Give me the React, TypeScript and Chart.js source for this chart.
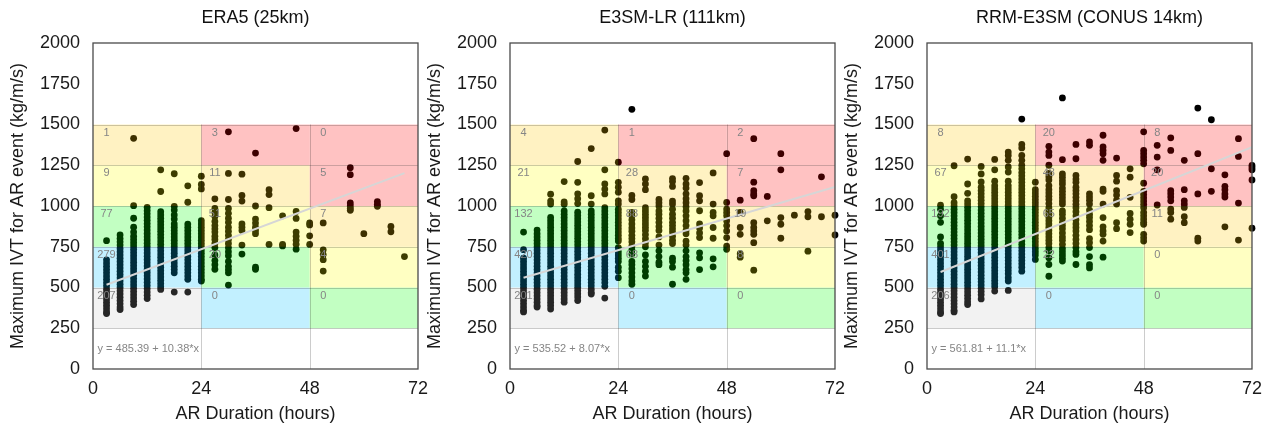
import React, { useEffect, useRef } from 'react';
import { Chart, registerables } from 'chart.js';

Chart.register(...registerables);

const FONT = '"Liberation Sans", Arial, Helvetica, sans-serif';

// ---------- ERA5 (25km) ----------
const ERA5_HOURS = [3, 6, 9, 12, 15, 18, 21, 24, 27, 30, 33, 36, 39, 42, 45, 48, 51, 57, 60, 63, 66, 69];
const ERA5_IVT: number[][] = [
  [787, 670, 650, 630, 610, 590, 570, 550, 530, 510, 490, 470, 450, 430, 410, 390, 370, 350, 340],
  [822, 800, 780, 760, 740, 720, 700, 680, 660, 640, 620, 600, 580, 560, 540, 520, 500, 480, 460, 440, 420, 400, 380, 365],
  [1415, 1002, 925, 870, 840, 815, 795, 775, 755, 735, 715, 695, 675, 655, 635, 615, 595, 575, 555, 535, 515, 495, 475, 455, 435, 415, 395],
  [992, 972, 952, 932, 912, 892, 872, 852, 832, 812, 792, 772, 752, 732, 712, 692, 672, 652, 632, 612, 592, 572, 552, 532, 512, 492, 472, 452, 432],
  [1222, 1089, 965, 945, 925, 905, 885, 865, 845, 825, 805, 785, 765, 745, 725, 705, 685, 665, 645, 625, 605, 585, 565, 545, 525, 505, 488],
  [1198, 998, 975, 945, 920, 890, 870, 850, 830, 810, 790, 770, 750, 730, 710, 690, 670, 650, 630, 610, 590, 472],
  [1124, 1023, 889, 870, 850, 830, 810, 790, 770, 750, 730, 710, 690, 670, 650, 630, 610, 590, 570, 550, 472],
  [1183, 1132, 1105, 910, 890, 870, 850, 830, 810, 790, 770, 750, 730, 710, 690, 670, 650, 630, 610, 590, 570, 550, 540],
  [1044, 985, 960, 935, 905, 880, 860, 840, 815, 795, 770, 745, 700, 665, 640, 612],
  [1455, 1200, 1040, 985, 955, 925, 900, 870, 845, 820, 795, 770, 745, 720, 695, 660, 630, 610, 590, 515],
  [1195, 1065, 1030, 890, 870, 850, 760, 705],
  [1325, 1000, 920, 895, 870, 850, 830, 625, 612],
  [1100, 1070, 990, 764],
  [940, 765, 755],
  [1475, 967, 924, 840, 815, 790, 766, 735],
  [896, 884, 817, 764],
  [896, 731, 702, 671, 601],
  [1235, 1192, 1019, 1000, 985, 974],
  [830],
  [1027, 1010, 998],
  [875, 842],
  [690],
];
// counts per box, column by column (0-24, 24-48, 48-72), rows bottom (250-500) to top (1250-1500)
const ERA5_COUNTS = [
  [207, 279, 77, 9, 1],
  [0, 20, 51, 11, 3],
  [0, 4, 7, 5, 0],
];
const ERA5_FIT = [485.39, 10.38];

// ---------- E3SM-LR (111km) ----------
const LR_HOURS = [3, 6, 9, 12, 15, 18, 21, 24, 27, 30, 33, 36, 39, 42, 45, 48, 51, 54, 57, 60, 63, 66, 69, 72];
const LR_IVT: number[][] = [
  [840, 732, 680, 660, 640, 620, 600, 580, 560, 540, 520, 500, 480, 460, 440, 420, 400, 380, 360, 350],
  [852, 830, 810, 790, 770, 750, 730, 710, 690, 670, 650, 630, 610, 590, 570, 550, 530, 510, 490, 470, 450, 430, 410, 390, 380],
  [1072, 1030, 1012, 930, 910, 890, 870, 850, 830, 810, 790, 770, 750, 730, 710, 690, 670, 650, 630, 610, 590, 570, 550, 530, 510, 490, 470, 450, 430, 410, 390, 368],
  [1150, 1025, 1010, 970, 950, 930, 910, 890, 870, 850, 830, 810, 790, 770, 750, 730, 710, 690, 670, 650, 630, 610, 590, 570, 550, 530, 510, 490, 470, 450, 430, 410],
  [1273, 1145, 1075, 1045, 1015, 962, 942, 922, 902, 882, 862, 842, 822, 802, 782, 762, 742, 722, 702, 682, 662, 642, 622, 602, 582, 562, 542, 522, 502, 482, 462, 442, 420],
  [1352, 1063, 1012, 970, 950, 930, 910, 890, 870, 850, 830, 810, 790, 770, 750, 730, 710, 690, 670, 650, 630, 610, 590, 570, 550, 530, 510, 490, 470, 460],
  [1466, 1222, 1135, 1104, 1074, 990, 970, 950, 930, 910, 890, 870, 850, 830, 810, 790, 770, 750, 730, 710, 690, 670, 650, 630, 610, 590, 570, 550, 530, 507, 435],
  [1269, 1145, 1115, 1085, 1032, 1012, 980, 960, 940, 920, 900, 880, 860, 840, 820, 800, 785, 745, 720, 700, 680, 660, 625, 600, 560],
  [1593, 1065, 1040, 960, 940, 915, 890, 865, 845, 820, 800, 780, 755, 730, 705, 660, 640, 615, 590, 565, 540, 520],
  [1166, 1135, 1100, 990, 970, 950, 930, 910, 890, 870, 850, 825, 800, 775, 750, 700, 660, 630, 600, 570],
  [1040, 1020, 1000, 970, 950, 925, 900, 875, 850, 810, 760, 725, 690, 655, 640],
  [1168, 1150, 1120, 1030, 1012, 980, 950, 925, 900, 880, 860, 840, 815, 790, 770, 680, 660, 625, 520],
  [1170, 1135, 1110, 1075, 1045, 1020, 995, 970, 940, 910, 880, 850, 830, 785, 760, 725, 690, 665, 640, 610, 590, 550],
  [1144, 1063, 1032, 971, 890, 865, 835, 806, 713, 682, 610],
  [1203, 1012, 960, 940, 868, 802, 676, 627],
  [1321, 1022, 981, 960, 940, 910, 880, 847, 806, 754, 734],
  [1036, 960, 868, 826, 707, 686],
  [1413, 1146, 1094, 1074, 1063, 898, 868, 847, 826, 775, 606],
  [1059, 909],
  [1321, 1222, 929, 888, 802],
  [944],
  [966, 934, 723],
  [1179, 934],
  [944, 822],
];
const LR_COUNTS = [
  [201, 420, 132, 21, 4],
  [0, 68, 88, 28, 1],
  [0, 8, 19, 7, 2],
];
const LR_FIT = [535.52, 8.07];

// ---------- RRM-E3SM (CONUS 14km) ----------
const RRM_HOURS = [3, 6, 9, 12, 15, 18, 21, 24, 27, 30, 33, 36, 39, 42, 45, 48, 51, 54, 57, 60, 63, 66, 69, 72];
const RRM_IVT: number[][] = [
  [1005, 980, 940, 900, 810, 770, 750, 730, 710, 690, 670, 650, 630, 610, 590, 570, 550, 530, 510, 490, 470, 450, 430, 410, 390, 370, 350, 340],
  [1247, 1057, 1020, 1000, 980, 960, 940, 920, 900, 880, 860, 840, 820, 800, 780, 760, 740, 720, 700, 680, 660, 640, 620, 600, 580, 560, 540, 520, 500, 480, 460, 440, 420, 400, 380, 360, 350],
  [1288, 1135, 1078, 1032, 1012, 992, 972, 952, 932, 912, 892, 872, 852, 832, 812, 792, 772, 752, 732, 712, 692, 672, 652, 632, 612, 592, 572, 552, 532, 512, 492, 472, 452, 432, 412, 395],
  [1243, 1197, 1148, 1115, 1095, 1075, 1055, 1035, 1015, 995, 975, 955, 935, 915, 895, 875, 855, 835, 815, 795, 775, 755, 735, 715, 695, 675, 655, 635, 615, 595, 575, 555, 535, 515, 495, 475, 455, 430],
  [1286, 1222, 1152, 1125, 1105, 1085, 1065, 1045, 1025, 1005, 985, 965, 945, 925, 905, 885, 865, 845, 825, 805, 785, 765, 745, 725, 705, 685, 665, 645, 625, 605, 585, 565, 545, 525, 505, 478],
  [1331, 1310, 1280, 1240, 1208, 1152, 1125, 1105, 1085, 1065, 1045, 1025, 1005, 985, 965, 945, 925, 905, 885, 865, 845, 825, 805, 785, 765, 745, 725, 705, 685, 665, 645, 625, 605, 585, 560, 540, 482],
  [1533, 1378, 1356, 1310, 1280, 1250, 1228, 1205, 1185, 1165, 1145, 1125, 1105, 1085, 1065, 1045, 1025, 1005, 985, 965, 945, 925, 905, 885, 865, 845, 825, 805, 785, 765, 745, 725, 705, 685, 665, 645, 625, 600],
  [1146, 1100, 1080, 1060, 1040, 1020, 1000, 980, 960, 940, 920, 900, 880, 860, 840, 820, 800, 780, 760, 740, 720, 700, 672],
  [1366, 1331, 1310, 1250, 1200, 1180, 1160, 1125, 1100, 1080, 1060, 1040, 1015, 990, 970, 950, 930, 910, 890, 870, 850, 830, 810, 790, 770, 745, 725, 682, 641, 569],
  [1663, 1284, 1197, 1177, 1155, 1135, 1110, 1090, 1070, 1050, 1030, 1012, 970, 950, 925, 900, 880, 860, 835, 810, 790, 765, 740, 720, 700, 680, 662],
  [1378, 1290, 1187, 1165, 1146, 1115, 1095, 1075, 1053, 1032, 1010, 990, 965, 940, 915, 890, 868, 847, 820, 795, 770, 745, 720, 703, 641],
  [1393, 1372, 1075, 1055, 1035, 1012, 975, 950, 930, 905, 880, 855, 800, 775, 745, 690, 640, 620],
  [1434, 1362, 1341, 1321, 1280, 1104, 1090, 1012, 929, 872, 847, 826, 785, 686],
  [1294, 1187, 1152, 1094, 1067, 1036, 1012, 898, 861],
  [1228, 1177, 1053, 954, 919, 888, 837],
  [1455, 1341, 1321, 1300, 1280, 1259, 1140, 1090, 1070, 1050, 1030, 1010, 990, 960, 940, 920, 900, 888, 826, 805, 785],
  [1372, 1300, 1222, 1006],
  [1418, 1341, 1094, 1075, 1055, 1032, 981, 960, 919],
  [1280, 1100, 1032, 1012, 991, 934, 898],
  [1601, 1321, 1074, 802, 785],
  [1529, 1228, 1090],
  [1191, 1121, 1100, 1074, 1055, 872],
  [1413, 1304, 1018, 791],
  [1249, 1235, 1222, 1160, 864],
];
const RRM_COUNTS = [
  [206, 401, 192, 67, 8],
  [0, 22, 65, 48, 20],
  [0, 0, 11, 20, 8],
];
const RRM_FIT = [561.81, 11.1];

// ---------- shared box layout ----------
const COL_EDGES = [0, 24, 48, 72];
const ROW_EDGES = [250, 500, 750, 1000, 1250, 1500];
// AR category for each box (columns; rows bottom to top)
const BOX_CATEGORY = [
  [0, 1, 2, 3, 4],
  [1, 2, 3, 4, 5],
  [2, 3, 4, 5, 5],
];
const CATEGORY_COLORS = [
  'rgba(190,190,190,0.2)',
  'rgba(0,191,255,0.24)',
  'rgba(0,255,0,0.24)',
  'rgba(255,255,0,0.24)',
  'rgba(255,200,0,0.24)',
  'rgba(255,0,0,0.24)',
];

type PanelProps = {
  left: number;
  width: number;
  title: string;
  hours: number[];
  ivt: number[][];
  counts: number[][];
  fit: number[];
};

function Panel({ left, width, title, hours, ivt, counts, fit }: PanelProps) {
  const ref = useRef<HTMLCanvasElement>(null);

  useEffect(() => {
    if (!ref.current) return;
    const points: { x: number; y: number }[] = [];
    hours.forEach((h, i) => ivt[i].forEach((v) => points.push({ x: h, y: v })));
    const xMin = Math.min(...hours);
    const xMax = Math.max(...hours);
    const [a, b] = fit;
    const fitLine = [
      { x: xMin, y: a + b * xMin },
      { x: xMax, y: a + b * xMax },
    ];

    const overlay = {
      id: 'overlay',
      afterDatasetDraw(chart: any, args: any) {
        if (args.index !== 1) return;
        const { ctx, scales } = chart;
        const xs = scales.x;
        const ys = scales.y;
        ctx.save();
        for (let c = 0; c < 3; c++) {
          for (let r = 0; r < 5; r++) {
            const x0 = xs.getPixelForValue(COL_EDGES[c]);
            const x1 = xs.getPixelForValue(COL_EDGES[c + 1]);
            const y0 = ys.getPixelForValue(ROW_EDGES[r + 1]);
            const y1 = ys.getPixelForValue(ROW_EDGES[r]);
            ctx.fillStyle = CATEGORY_COLORS[BOX_CATEGORY[c][r]];
            ctx.fillRect(x0, y0, x1 - x0, y1 - y0);
          }
        }
        ctx.strokeStyle = 'rgba(0,0,0,0.2)';
        ctx.lineWidth = 1;
        ROW_EDGES.forEach((v) => {
          const y = Math.round(ys.getPixelForValue(v)) + 0.5;
          ctx.beginPath();
          ctx.moveTo(xs.getPixelForValue(0), y);
          ctx.lineTo(xs.getPixelForValue(72), y);
          ctx.stroke();
        });
        [24, 48].forEach((h) => {
          const x = Math.round(xs.getPixelForValue(h)) + 0.5;
          ctx.beginPath();
          ctx.moveTo(x, ys.getPixelForValue(1500));
          ctx.lineTo(x, ys.getPixelForValue(0));
          ctx.stroke();
        });
        ctx.restore();
      },
      afterDatasetsDraw(chart: any) {
        const { ctx, scales, chartArea } = chart;
        const xs = scales.x;
        const ys = scales.y;
        ctx.save();
        // box counts
        ctx.font = `11px ${FONT}`;
        ctx.fillStyle = '#858585';
        ctx.textAlign = 'center';
        ctx.textBaseline = 'middle';
        for (let c = 0; c < 3; c++) {
          for (let r = 0; r < 5; r++) {
            ctx.fillText(
              String(counts[c][r]),
              xs.getPixelForValue(COL_EDGES[c] + 3),
              ys.getPixelForValue(ROW_EDGES[r + 1] - 50)
            );
          }
        }
        // regression equation
        ctx.textAlign = 'left';
        ctx.fillText(`y = ${a} + ${b}*x`, xs.getPixelForValue(1), ys.getPixelForValue(125));
        // frame
        ctx.strokeStyle = '#4a4a4a';
        ctx.lineWidth = 1.3;
        ctx.strokeRect(chartArea.left, chartArea.top, chartArea.right - chartArea.left, chartArea.bottom - chartArea.top);
        // title
        ctx.font = `18px ${FONT}`;
        ctx.fillStyle = '#111';
        ctx.textAlign = 'center';
        ctx.fillText(title, (chartArea.left + chartArea.right) / 2, 18);
        ctx.restore();
      },
    };

    const tickFont = { size: 18, family: FONT };
    const chart = new Chart(ref.current, {
      type: 'scatter',
      data: {
        datasets: [
          {
            data: fitLine,
            showLine: true,
            borderColor: '#d6d6d6',
            borderWidth: 2,
            pointRadius: 0,
            fill: false,
          },
          {
            data: points,
            backgroundColor: '#000',
            borderWidth: 0,
            pointRadius: 3.4,
            clip: false,
          },
        ],
      } as any,
      options: {
        responsive: false,
        animation: false,
        devicePixelRatio: 1,
        layout: { padding: { left: 0, top: 43, right: width - 418, bottom: 0 } },
        plugins: {
          legend: { display: false },
          tooltip: { enabled: false },
          title: { display: false },
        },
        scales: {
          x: {
            type: 'linear',
            min: 0,
            max: 72,
            grid: { display: false, drawTicks: false },
            border: { display: false },
            ticks: {
              stepSize: 24,
              padding: 9,
              color: '#1a1a1a',
              font: tickFont,
              callback: (v: any) => String(v),
            },
            title: {
              display: true,
              text: 'AR Duration (hours)',
              color: '#1a1a1a',
              font: tickFont,
              padding: { top: 0, bottom: 0 },
            },
            afterFit: (s: any) => {
              s.height = 56;
            },
          },
          y: {
            type: 'linear',
            min: 0,
            max: 2000,
            grid: { display: false, drawTicks: false },
            border: { display: false },
            ticks: {
              stepSize: 250,
              padding: 13,
              color: '#1a1a1a',
              font: tickFont,
              callback: (v: any) => String(v),
            },
            title: {
              display: true,
              text: 'Maximum IVT for AR event (kg/m/s)',
              color: '#1a1a1a',
              font: tickFont,
              padding: { top: 7, bottom: 0 },
            },
            afterFit: (s: any) => {
              s.width = 93;
            },
          },
        },
      } as any,
      plugins: [overlay],
    });
    return () => chart.destroy();
  }, []);

  return (
    <canvas
      ref={ref}
      width={width}
      height={425}
      style={{ position: 'absolute', left, top: 0, width, height: 425 }}
    />
  );
}

export default function App() {
  return (
    <div style={{ position: 'absolute', left: 0, top: 0, width: 1271, height: 425, background: '#fff', overflow: 'hidden' }}>
      <Panel left={0} width={440} title="ERA5 (25km)" hours={ERA5_HOURS} ivt={ERA5_IVT} counts={ERA5_COUNTS} fit={ERA5_FIT} />
      <Panel left={417} width={440} title="E3SM-LR (111km)" hours={LR_HOURS} ivt={LR_IVT} counts={LR_COUNTS} fit={LR_FIT} />
      <Panel left={834} width={437} title="RRM-E3SM (CONUS 14km)" hours={RRM_HOURS} ivt={RRM_IVT} counts={RRM_COUNTS} fit={RRM_FIT} />
    </div>
  );
}
